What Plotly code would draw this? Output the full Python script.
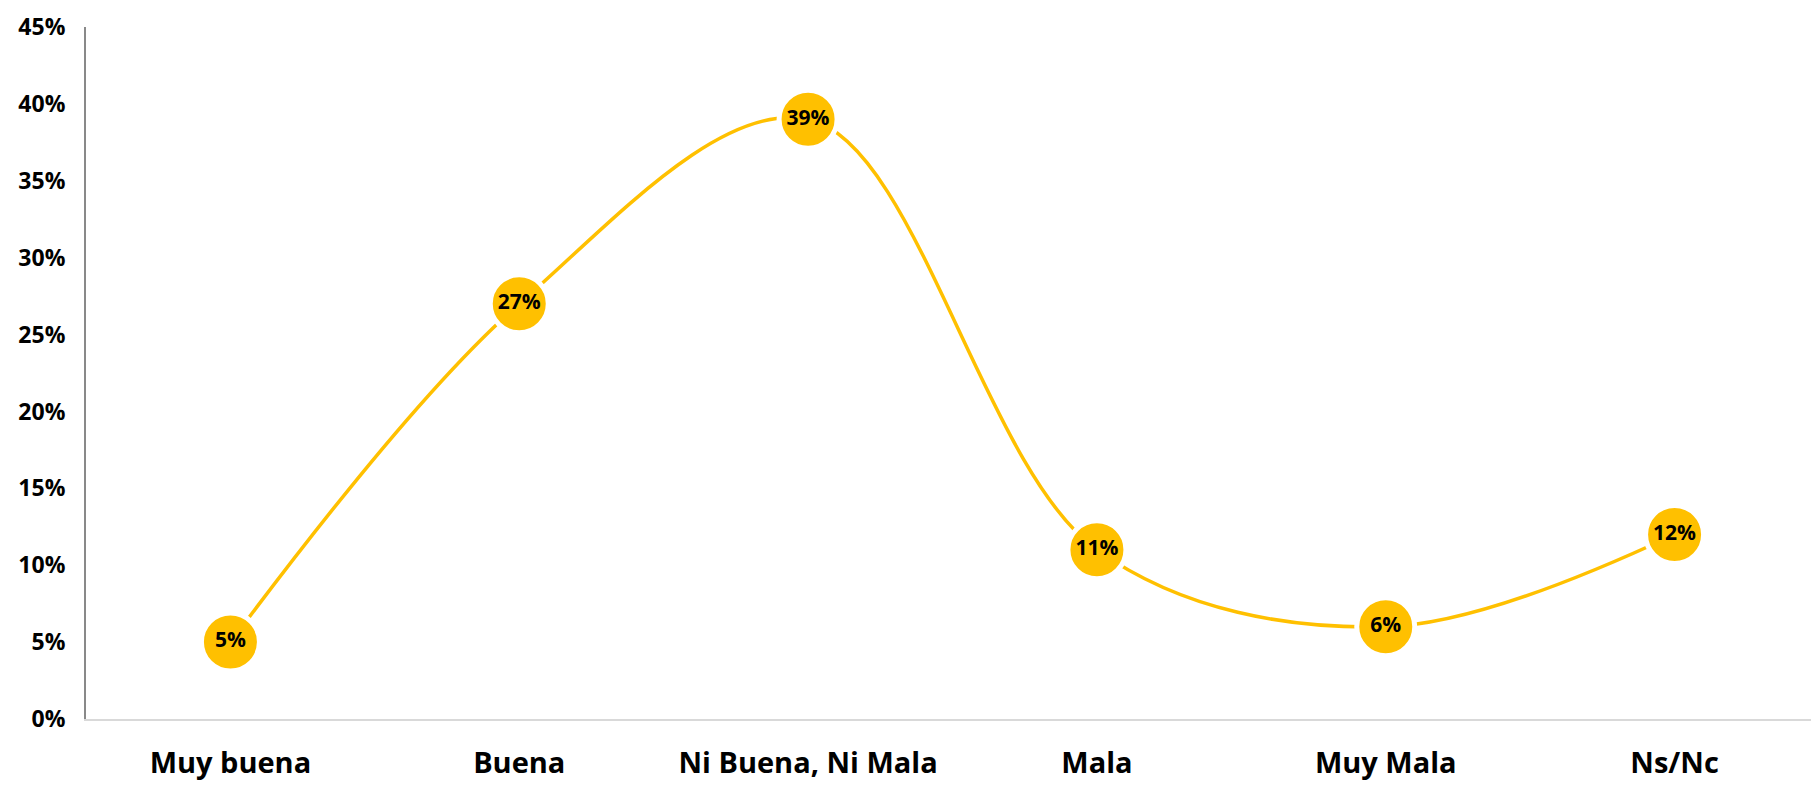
import plotly.graph_objects as go

categories = ['Muy buena', 'Buena', 'Ni Buena, Ni Mala', 'Mala', 'Muy Mala', 'Ns/Nc']
values = [5, 27, 39, 11, 6, 12]
labels = [f'{v}%' for v in values]

yellow = '#FFC000'

fig = go.Figure()
fig.add_trace(go.Scatter(
    x=categories,
    y=values,
    mode='lines+markers+text',
    text=labels,
    textposition='middle center',
    textfont=dict(family='Open Sans', size=21, color='black', weight='bold'),
    line=dict(color=yellow, width=3.5, shape='spline', smoothing=1),
    marker=dict(size=58, color=yellow, line=dict(color='white', width=5)),
    cliponaxis=False,
    showlegend=False,
))

# the page adds an 8px body margin, so the figure is sized to fit inside it
fig.update_layout(
    width=1811,
    height=777,
    plot_bgcolor='white',
    paper_bgcolor='white',
    margin=dict(l=78, r=0, t=19, b=66),
    font=dict(family='Open Sans', color='black'),
)

fig.update_xaxes(
    range=[-0.5, 5.5],
    showline=True,
    linecolor='#d9d9d9',
    linewidth=2,
    showgrid=False,
    ticks='',
    ticklabelstandoff=17,
    tickfont=dict(size=29, weight='bold'),
    automargin=False,
    ticklabeloverflow='allow',
)
fig.update_yaxes(
    range=[0, 45],
    tickvals=[0, 5, 10, 15, 20, 25, 30, 35, 40, 45],
    ticktext=[f'{v}%' for v in range(0, 50, 5)],
    showline=True,
    linecolor='#898989',
    linewidth=2,
    showgrid=False,
    zeroline=False,
    ticks='',
    ticklabelstandoff=14,
    tickfont=dict(size=23, weight='bold'),
    automargin=False,
    ticklabeloverflow='allow',
)

fig.write_html('out.html')
